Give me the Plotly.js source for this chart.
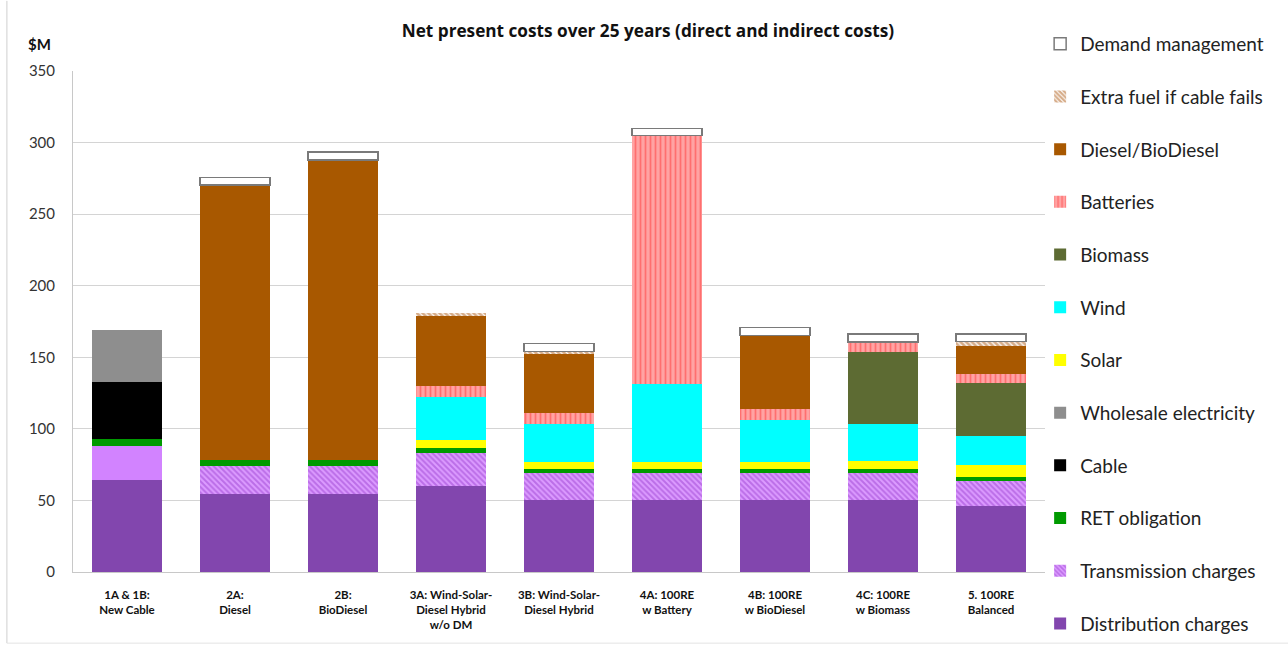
<!DOCTYPE html>
<html>
<head>
<meta charset="utf-8">
<script src="https://cdn.plot.ly/plotly-3.0.1.min.js"></script>
<style>html,body{margin:0;padding:0;background:#fff;}#chart{width:1288px;height:646px;}</style>
</head>
<body>
<div id="chart"></div>
<script>
const categories = ["1A & 1B:<br>New Cable", "2A:<br>Diesel", "2B:<br>BioDiesel", "3A: Wind-Solar-<br>Diesel Hybrid<br>w/o DM", "3B: Wind-Solar-<br>Diesel Hybrid", "4A: 100RE<br>w Battery", "4B: 100RE<br>w BioDiesel", "4C: 100RE<br>w Biomass", "5. 100RE<br>Balanced"];

const distribution = [64.3, 54.3, 54.3, 60.1, 50.3, 50.3, 50.3, 50.3, 46.1];
const transmission = [24.0, 20.0, 20.0, 22.8, 18.7, 18.7, 18.7, 18.7, 17.5];
const retObligation = [4.5, 3.7, 3.7, 3.5, 3.0, 3.0, 3.0, 3.2, 2.6];
const cable = [39.6, null, null, null, null, null, null, null, null];
const wholesale = [36.8, null, null, null, null, null, null, null, null];
const solar = [null, null, null, 5.8, 5.1, 5.1, 5.1, 5.1, 8.3];
const wind = [null, null, null, 30.3, 26.3, 54.0, 29.1, 26.3, 20.7];
const biomass = [null, null, null, null, null, null, null, 49.9, 36.6];
const batteries = [null, null, null, 7.4, 7.5, 173.7, 7.5, 7.2, 6.7];
const diesel = [null, 192.4, 209.8, 48.9, 41.4, null, 51.4, null, 19.4];
const extraFuel = [null, null, null, 2.4, 1.9, null, null, null, 3.3];
const demandMgmt = [null, 5.3, 5.5, null, 5.6, 5.2, 5.6, 5.6, 5.1];

const seriesNames = ["Distribution charges", "Transmission charges", "RET obligation", "Cable", "Wholesale electricity", "Solar", "Wind", "Biomass", "Batteries", "Diesel/BioDiesel", "Extra fuel if cable fails", "Demand management"];

// The cable scenario shows transmission as a solid fill; the others are hatched.
const transSolid = transmission.map((v, i) => i === 0 ? v : null);
const transHatched = transmission.map((v, i) => i === 0 ? null : v);

function bar(name, y, marker, group, rank, showlegend) {
  return {type: "bar", name: name, x: categories, y: y, marker: marker,
          legendgroup: group, legendrank: rank, hoverinfo: "name+y",
          showlegend: showlegend !== false};
}

const traces = [
  bar(seriesNames[0], distribution, {color: "#8246ae"}, "g0", 100),
  bar(seriesNames[1], transSolid, {color: "#d283ff"}, "g1s", 200, false),
  bar(seriesNames[1], transHatched, {color: "#d283ff",
      pattern: {shape: "\\", fgcolor: "#9a40d0", bgcolor: "#dc9cff", size: 4, solidity: 0.5, fillmode: "overlay"}}, "g1", 99),
  bar(seriesNames[2], retObligation, {color: "#009a00"}, "g2", 98),
  bar(seriesNames[3], cable, {color: "#000000"}, "g3", 97),
  bar(seriesNames[4], wholesale, {color: "#8e8e8e"}, "g4", 96),
  bar(seriesNames[5], solar, {color: "#ffff00"}, "g5", 95),
  bar(seriesNames[6], wind, {color: "#00ffff"}, "g6", 94),
  bar(seriesNames[7], biomass, {color: "#5d6b33"}, "g7", 93),
  bar(seriesNames[8], batteries, {color: "#ff9c9c",
      pattern: {shape: "|", fgcolor: "#ff3c3c", bgcolor: "#ffa3a3", size: 5, solidity: 0.35, fillmode: "overlay"}}, "g8", 92),
  bar(seriesNames[9], diesel, {color: "#a85800"}, "g9", 91),
  bar(seriesNames[10], extraFuel, {color: "#ffffff",
      pattern: {shape: "\\", fgcolor: "#ad5a14", bgcolor: "#ffffff", size: 4, solidity: 0.7, fillmode: "overlay"}}, "g10", 90),
  bar(seriesNames[11], demandMgmt, {color: "#ffffff", line: {color: "#7a7a7a", width: 1.5}}, "g11", 89)
];

const layout = {
  width: 1288, height: 646,
  margin: {l: 73, r: 243, t: 71, b: 74},
  paper_bgcolor: "#ffffff", plot_bgcolor: "#ffffff",
  font: {family: "Lato, 'Open Sans', sans-serif", color: "#222"},
  barmode: "stack",
  bargap: 0.35,
  title: {text: "<b>Net present costs over 25 years (direct and indirect costs)</b>",
          xref: "container", x: 0.503, xanchor: "center",
          yref: "container", y: 0.952, yanchor: "middle",
          font: {size: 17.2, color: "#111", family: "'Open Sans', sans-serif"}},
  xaxis: {tickfont: {size: 11.5, color: "#111", family: "Lato, sans-serif", weight: "bold"},
          showline: true, linecolor: "#c8c8c8", linewidth: 1, ticklabelstandoff: 12,
          ticks: "", showgrid: false, fixedrange: true, tickangle: 0},
  yaxis: {range: [0, 350], dtick: 50, tick0: 0,
          showgrid: true, gridcolor: "#d4d4d4", gridwidth: 1,
          showline: true, linecolor: "#c8c8c8", linewidth: 1,
          zeroline: false, ticks: "", ticklabelstandoff: 14,
          tickfont: {size: 15, color: "#333"}},
  legend: {x: 0.995, xanchor: "left", y: 1.092, yanchor: "top",
           traceorder: "grouped", tracegroupgap: 25, maxheight: 646,
           font: {size: 19, color: "#222"}, itemwidth: 30,
           bgcolor: "rgba(0,0,0,0)"},
  shapes: [
    {type: "line", xref: "paper", yref: "paper", x0: -0.068, x1: -0.068, y0: -0.142, y1: 1.14,
     line: {color: "#cfcfcf", width: 1}},
    {type: "line", xref: "paper", yref: "paper", x0: -0.068, x1: 1.25, y0: -0.142, y1: -0.142,
     line: {color: "#e4e4e4", width: 1}}
  ],
  annotations: [{text: "<b>$M</b>", xref: "paper", yref: "paper",
                 x: -0.034, y: 1.054, xanchor: "center", yanchor: "middle",
                 showarrow: false, font: {size: 15, color: "#111"}}]
};

Plotly.newPlot("chart", traces, layout, {displayModeBar: false, staticPlot: true});
</script>
</body>
</html>
